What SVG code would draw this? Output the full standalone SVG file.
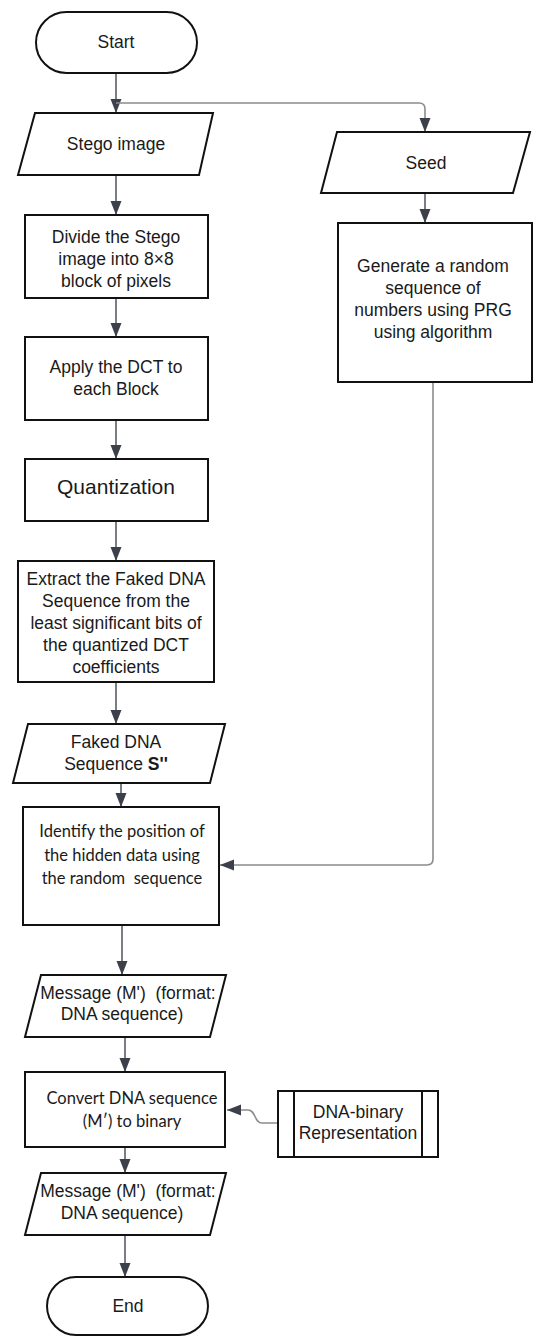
<svg xmlns="http://www.w3.org/2000/svg" width="533" height="1336" viewBox="0 0 533 1336">
<style>
.shape{fill:#fff;stroke:#111;stroke-width:2}
.t{font-family:"Liberation Sans",Arial,sans-serif;font-size:17.5px;fill:#1a1a1a;text-anchor:middle}
.c{font-family:Lato,"Noto Sans",sans-serif;font-size:16.5px;fill:#1a1a1a;text-anchor:middle}
.conn{fill:none;stroke:#5a5e66;stroke-width:1.6}
.conn2{fill:none;stroke:#8c8c8c;stroke-width:1.6}
</style>
<defs>
<marker id="ah" markerUnits="userSpaceOnUse" markerWidth="14" markerHeight="14" viewBox="0 0 14 14" refX="14" refY="7" orient="auto">
<path d="M0,1.5 L14,7 L0,12.5 Z" fill="#3c404a"/>
</marker>
</defs>
<rect width="533" height="1336" fill="#fff"/>
<g id="connectors">
<path class="conn" d="M116 73 V113" marker-end="url(#ah)"/>
<path class="conn2" d="M116 103 H419 Q425 103 425 109 V132" marker-end="url(#ah)"/>
<path class="conn" d="M116 175 V215" marker-end="url(#ah)"/>
<path class="conn" d="M116 298 V337" marker-end="url(#ah)"/>
<path class="conn" d="M116 420 V459" marker-end="url(#ah)"/>
<path class="conn" d="M116 521 V561" marker-end="url(#ah)"/>
<path class="conn" d="M116 682 V724" marker-end="url(#ah)"/>
<path class="conn" d="M121 783 V807" marker-end="url(#ah)"/>
<path class="conn" d="M425 193 V223" marker-end="url(#ah)"/>
<path class="conn2" d="M433 382 V859 Q433 865 427 865 H220" marker-end="url(#ah)"/>
<path class="conn" d="M122 925 V975" marker-end="url(#ah)"/>
<path class="conn" d="M125 1037 V1072" marker-end="url(#ah)"/>
<path class="conn2" d="M278 1123 H262 C254 1123 256 1110 248 1110 H227" marker-end="url(#ah)"/>
<path class="conn" d="M125 1147 V1173" marker-end="url(#ah)"/>
<path class="conn" d="M125 1235 V1277" marker-end="url(#ah)"/>
</g>
<g id="start">
<rect class="shape" x="36" y="12" width="161" height="61" rx="30.5"/>
<text class="t" x="116" y="48">Start</text>
</g>
<g id="stego">
<polygon class="shape" points="35,113 213,113 199,175 18,175"/>
<text class="t" x="116" y="150">Stego image</text>
</g>
<g id="seed">
<polygon class="shape" points="337,132 530,132 513,193 321,193"/>
<text class="t" x="426" y="169">Seed</text>
</g>
<g id="divide">
<rect class="shape" x="25" y="215" width="183" height="83"/>
<text class="t" x="116" y="243">Divide the Stego</text>
<text class="t" x="116" y="265">image into  8×8</text>
<text class="t" x="116" y="287">block of pixels</text>
</g>
<g id="generate">
<rect class="shape" x="338" y="223" width="194" height="159"/>
<text class="t" x="433" y="272">Generate a random</text>
<text class="t" x="433" y="294">sequence of</text>
<text class="t" x="433" y="316">numbers using PRG</text>
<text class="t" x="433" y="338">using algorithm</text>
</g>
<g id="apply">
<rect class="shape" x="25" y="337" width="183" height="83"/>
<text class="t" x="116" y="373">Apply the DCT to</text>
<text class="t" x="116" y="395">each Block</text>
</g>
<g id="quant">
<rect class="shape" x="25" y="459" width="183" height="62"/>
<text class="t" x="116" y="494" style="font-size:21px">Quantization</text>
</g>
<g id="extract">
<rect class="shape" x="18" y="561" width="196" height="121"/>
<text class="t" x="116" y="585">Extract the Faked DNA</text>
<text class="t" x="116" y="607">Sequence from the</text>
<text class="t" x="116" y="629">least significant bits of</text>
<text class="t" x="116" y="651">the quantized DCT</text>
<text class="t" x="116" y="673">coefficients</text>
</g>
<g id="faked">
<polygon class="shape" points="28,724 225,724 210,783 13,783"/>
<text class="t" x="116" y="748">Faked DNA</text>
<text class="t" x="116" y="770">Sequence <tspan font-weight="bold">S''</tspan></text>
</g>
<g id="identify">
<rect class="shape" x="23" y="807" width="196" height="118"/>
<text class="c" x="122" y="837">Identify the position of</text>
<text class="c" x="122" y="861">the hidden data using</text>
<text class="c" x="122" y="884" xml:space="preserve">the random  sequence</text>
</g>
<g id="message1">
<polygon class="shape" points="41,975 226,975 210,1037 25,1037"/>
<text class="t" x="128" y="999" xml:space="preserve">Message (M')  (format:</text>
<text class="t" x="122" y="1020">DNA sequence)</text>
</g>
<g id="convert">
<rect class="shape" x="25" y="1072" width="200" height="75"/>
<text class="c" x="132" y="1104">Convert DNA sequence</text>
<text class="c" x="132" y="1127">(M′) to binary</text>
</g>
<g id="dnabinary">
<rect class="shape" x="278" y="1091" width="160" height="66"/>
<line class="shape" x1="294" y1="1091" x2="294" y2="1157"/>
<line class="shape" x1="422" y1="1091" x2="422" y2="1157"/>
<text class="t" x="358" y="1118">DNA-binary</text>
<text class="t" x="358" y="1139">Representation</text>
</g>
<g id="message2">
<polygon class="shape" points="41,1173 226,1173 210,1235 25,1235"/>
<text class="t" x="128" y="1197" xml:space="preserve">Message (M')  (format:</text>
<text class="t" x="122" y="1219">DNA sequence)</text>
</g>
<g id="end">
<rect class="shape" x="47" y="1277" width="161" height="58" rx="29"/>
<text class="t" x="128" y="1312">End</text>
</g>
</svg>
